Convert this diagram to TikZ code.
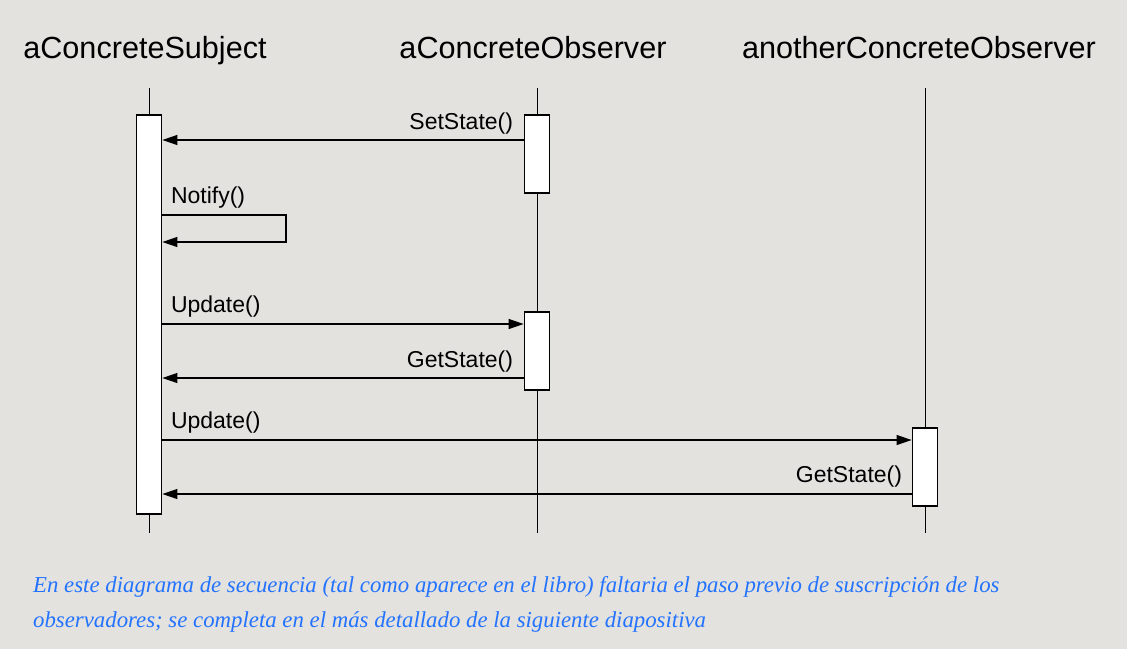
\documentclass[tikz,border=0pt]{standalone}
\usepackage{fontspec}
\setmainfont{Liberation Sans}
\newfontfamily\notefont{Liberation Serif}
\usetikzlibrary{arrows.meta,positioning}

\definecolor{slidebg}{RGB}{227,226,223}
\definecolor{noteblue}{RGB}{35,115,255}

\tikzset{
  header/.style={font=\fontsize{30.6}{34}\selectfont,anchor=base},
  lifeline/.style={line width=1pt},
  actbox/.style={draw,fill=white,line width=1.8pt,minimum width=25pt,inner sep=0pt,anchor=north},
  msg/.style={line width=1.2pt,-{Triangle[length=15pt,width=10pt]}},
  msglbl/.style={font=\fontsize{23}{26}\selectfont,inner sep=0pt},
  note/.style={font=\notefont\itshape\fontsize{22.8}{27}\selectfont,text=noteblue,anchor=base west,inner sep=0pt}
}

\begin{document}
\begin{tikzpicture}[x=1pt,y=-1pt]
\fill[slidebg] (0,0) rectangle (1127,649);
\useasboundingbox (0,0) rectangle (1127,649);

% objects
\node[header] (hSubj) at (145,58) {aConcreteSubject};
\node[header] (hObs) at (533,58) {aConcreteObserver};
\node[header] (hOther) at (919,58) {anotherConcreteObserver};

\foreach \x [count=\n] in {149,537,925}
  \draw[lifeline] (\x,88) coordinate (top\n) -- (\x,533) coordinate (bot\n);

% activations
\node[actbox,minimum height=399pt] (subj) at (149,114) {};
\node[actbox,minimum height=78pt] (obsA) at (537,114) {};
\node[actbox,minimum height=78pt] (obsB) at (537,311) {};
\node[actbox,minimum height=78pt] (other) at (925,427) {};

% message levels
\coordinate (m1) at (0,140);
\coordinate (n1) at (0,215);
\coordinate (loopR) at (286,242);
\coordinate (m2) at (0,324);
\coordinate (m3) at (0,378);
\coordinate (m4) at (0,440);
\coordinate (m5) at (0,494);

\draw[msg] (obsA.west |- m1) -- (subj.east |- m1)
  node[msglbl,pos=0,anchor=base east,xshift=-10pt,yshift=11pt] {SetState()};
\draw[msg] (subj.east |- n1) node[msglbl,anchor=base west,xshift=8pt,yshift=12pt] {Notify()}
  -| (loopR) -- (subj.east |- loopR);
\draw[msg] (subj.east |- m2) -- (obsB.west |- m2)
  node[msglbl,pos=0,anchor=base west,xshift=8pt,yshift=12pt] {Update()};
\draw[msg] (obsB.west |- m3) -- (subj.east |- m3)
  node[msglbl,pos=0,anchor=base east,xshift=-10pt,yshift=11pt] {GetState()};
\draw[msg] (subj.east |- m4) -- (other.west |- m4)
  node[msglbl,pos=0,anchor=base west,xshift=8pt,yshift=12pt] {Update()};
\draw[msg] (other.west |- m5) -- (subj.east |- m5)
  node[msglbl,pos=0,anchor=base east,xshift=-9pt,yshift=12pt] {GetState()};

% comment
\node[note] (note1) at (33,592) {En este diagrama de secuencia (tal como aparece en el libro) faltaria el paso previo de suscripción de los};
\node[note] (note2) at (33,627) {observadores; se completa en el más detallado de la siguiente diapositiva};
\end{tikzpicture}
\end{document}
